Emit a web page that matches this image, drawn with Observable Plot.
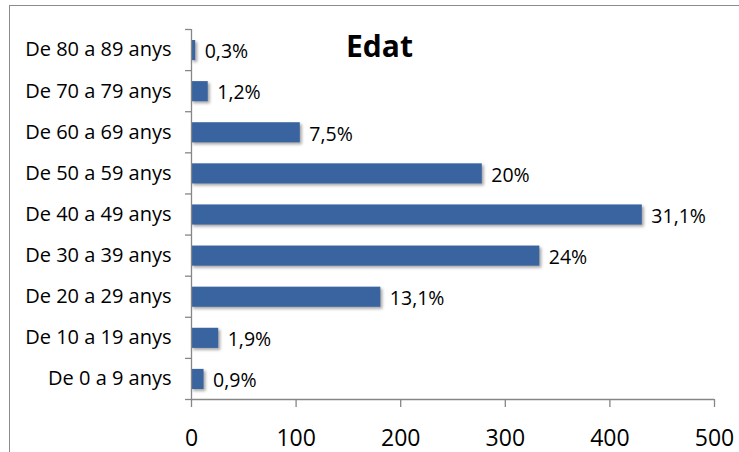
<!DOCTYPE html>
<html>
<head>
<meta charset="utf-8">
<script src="https://cdn.jsdelivr.net/npm/d3@7"></script>
<script src="https://cdn.jsdelivr.net/npm/@observablehq/plot@0.6"></script>
<style>
  html, body { margin: 0; padding: 0; background: #fff; }
  #wrap { position: relative; width: 739px; height: 452px; overflow: hidden; font-family: "Open Sans", sans-serif; }
  #frame { position: absolute; left: 9px; top: 5px; width: 740px; height: 460px; border-top: 1.5px solid #8c8c8c; border-left: 1.5px solid #8c8c8c; box-sizing: border-box; }
  #chart { position: absolute; left: 0; top: 0; }
  #chart g[aria-label="rect"] rect { filter: drop-shadow(2px 2px 1.5px rgba(0,0,0,0.35)); }
</style>
</head>
<body>
<div id="wrap"><div id="frame"></div><div id="chart"></div></div>
<script>
const title = "Edat";
const categories = ["De 0 a 9 anys", "De 10 a 19 anys", "De 20 a 29 anys", "De 30 a 39 anys", "De 40 a 49 anys", "De 50 a 59 anys", "De 60 a 69 anys", "De 70 a 79 anys", "De 80 a 89 anys"];
const counts = [12, 26, 181, 333, 431, 278, 104, 16, 4];
const percentLabels = ["0,9%", "1,9%", "13,1%", "24%", "31,1%", "20%", "7,5%", "1,2%", "0,3%"];
const xTicks = [0, 100, 200, 300, 400, 500];

const rows = categories.map((c, i) => ({cat: c, idx: i, value: counts[i], label: percentLabels[i]}));
const bandEdges = d3.range(0, categories.length + 1);
const bandCenters = categories.map((c, i) => i + 0.5);

const axisColor = "#868686";

const chart = Plot.plot({
  width: 739,
  height: 452,
  marginLeft: 191,
  marginRight: 25,
  marginTop: 29,
  marginBottom: 53,
  style: {fontFamily: "Open Sans, sans-serif", background: "transparent", color: "#000"},
  x: {domain: [0, 500], axis: null, label: null},
  y: {domain: [0, categories.length], axis: null, label: null},
  marks: [
    Plot.rect(rows, {x1: () => 0, x2: d => d.value, y1: d => d.idx, y2: d => d.idx + 1, insetTop: 11, insetBottom: 10, fill: "#3a64a0"}),
    Plot.text(rows, {x: d => d.value, y: d => d.idx + 0.5, text: "label", textAnchor: "start", dx: 9, dy: 2, fontSize: 19.5, fill: "#000"}),
    Plot.ruleX([0], {stroke: axisColor, strokeWidth: 1.3}),
    Plot.axisY(bandEdges, {tickSize: 6, tickFormat: () => "", label: null, stroke: axisColor, strokeWidth: 1.3}),
    Plot.axisY(bandCenters, {tickSize: 0, tickPadding: 20, label: null, tickFormat: (d) => categories[Math.floor(d)], fontSize: 20, fill: "#000"}),
    Plot.ruleY([0], {stroke: axisColor, strokeWidth: 1.3}),
    Plot.axisX(xTicks, {tickSize: 8, tickPadding: 22, label: null, stroke: axisColor, strokeWidth: 1.3, fontSize: 23, fill: "#000"}),
    Plot.text([title], {frameAnchor: "top", dx: -73.5, dy: 18, lineAnchor: "middle", fontSize: 30, fontWeight: "bold", fill: "#000"})
  ]
});
document.getElementById("chart").appendChild(chart);
</script>
</body>
</html>
